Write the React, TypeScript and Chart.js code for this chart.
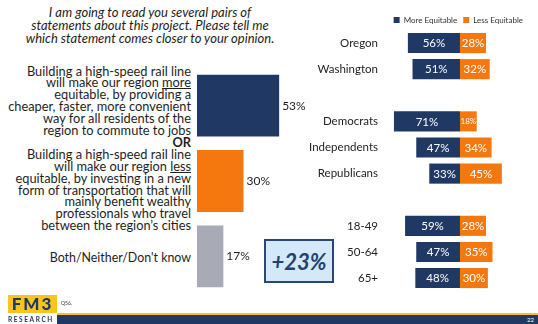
import React, { useEffect, useRef } from "react";
import { Chart, registerables } from "chart.js";

Chart.register(...registerables);

const NAVY = "#1f3864";
const ORANGE = "#f5780f";
const GREY = "#a8aab6";
const TEXT = "#1e1e1e";
const FONT = "Lato, 'Open Sans', sans-serif";

// ---- data ----
const overallCategories = ["More equitable", "Less equitable", "Both/Neither/Don't know"];
const overallValues = [53, 30, 17];
const overallColors = [NAVY, ORANGE, GREY];

const groupCategories = ["Oregon", "Washington", "", "Democrats", "Independents", "Republicans", "", "18-49", "50-64", "65+"];
const moreEquitable = [56, 51, null, 71, 47, 33, null, 59, 47, 48];
const lessEquitable = [28, 32, null, 18, 34, 45, null, 28, 35, 30];
const seriesNames = ["More Equitable", "Less Equitable"];

const titleLines = [
  "I am going to read you several pairs of",
  "statements about this project. Please tell me",
  "which statement comes closer to your opinion.",
];
const moreStatement = [
  "Building a high-speed rail line",
  "will make our region |more|",
  "equitable, by providing a",
  "cheaper, faster, more convenient",
  "way for all residents of the",
  "region to commute to jobs",
];
const lessStatement = [
  "Building a high-speed rail line",
  "will make our region |less|",
  "equitable, by investing in a new",
  "form of transportation that will",
  "mainly benefit wealthy",
  "professionals who travel",
  "between the region\u2019s cities",
];
const neitherLabel = "Both/Neither/Don't know";
const marginLabel = "+23%";

function renderLine(line: string, i: number) {
  const parts = line.split("|");
  return (
    <div key={i} style={{ position: "relative" }}>
      {parts.map((p, j) =>
        j % 2 === 1 ? (
          <span key={j} style={{ textDecoration: "underline", textDecorationThickness: "1px", textUnderlineOffset: "1px" }}>{p}</span>
        ) : (
          <span key={j}>{p}</span>
        )
      )}
    </div>
  );
}

function OverallChart() {
  const ref = useRef<HTMLCanvasElement | null>(null);
  useEffect(() => {
    if (!ref.current) return;
    const valuePlugin = {
      id: "valueLabels",
      afterDatasetsDraw(chart: any) {
        const ctx = chart.ctx;
        const meta = chart.getDatasetMeta(0);
        ctx.save();
        ctx.font = `12px ${FONT}`;
        ctx.fillStyle = TEXT;
        ctx.textBaseline = "middle";
        ctx.textAlign = "left";
        meta.data.forEach((el: any, i: number) => {
          ctx.fillText(overallValues[i] + "%", el.x + 3, el.y);
        });
        ctx.restore();
      },
    };
    const chart = new Chart(ref.current, {
      type: "bar",
      data: {
        labels: overallCategories,
        datasets: [
          {
            data: overallValues,
            backgroundColor: overallColors,
            borderWidth: 0,
            categoryPercentage: 1,
            barPercentage: 0.82,
          },
        ],
      },
      options: {
        indexAxis: "y",
        animation: false,
        responsive: true,
        maintainAspectRatio: false,
        layout: { padding: { left: 197, right: 0, top: 0, bottom: 0 } },
        plugins: { legend: { display: false }, tooltip: { enabled: false } },
        scales: {
          x: { display: false, min: 0, max: 80 },
          y: { display: false },
        },
      },
      plugins: [valuePlugin],
    });
    return () => chart.destroy();
  }, []);
  return (
    <div style={{ position: "absolute", left: 0, top: 68, width: 321, height: 226 }}>
      <canvas ref={ref} />
    </div>
  );
}

function GroupChart() {
  const ref = useRef<HTMLCanvasElement | null>(null);
  useEffect(() => {
    if (!ref.current) return;
    const innerPlugin = {
      id: "innerLabels",
      beforeLayout(chart: any) {
        const lg = chart.legend;
        if (lg && !lg.__trimmed) {
          const orig = lg.fit.bind(lg);
          lg.fit = function () {
            orig();
            this.height = Math.max(0, this.height - 4);
          };
          lg.__trimmed = true;
        }
      },
      afterDatasetsDraw(chart: any) {
        const ctx = chart.ctx;
        ctx.save();
        ctx.fillStyle = "#ffffff";
        ctx.textBaseline = "middle";
        ctx.textAlign = "center";
        const sources = [moreEquitable, lessEquitable];
        chart.data.datasets.forEach((_: any, di: number) => {
          const meta = chart.getDatasetMeta(di);
          meta.data.forEach((el: any, i: number) => {
            const v = sources[di][i];
            if (v === null || v === undefined) return;
            const w = Math.abs(el.x - el.base);
            ctx.font = w < 22 ? `8px ${FONT}` : `11.5px ${FONT}`;
            ctx.fillText(v + "%", (el.x + el.base) / 2, el.y + 0.5);
          });
        });
        ctx.restore();
      },
    };
    const chart = new Chart(ref.current, {
      type: "bar",
      data: {
        labels: groupCategories,
        datasets: [
          {
            label: seriesNames[0],
            data: moreEquitable.map((v) => (v === null ? null : -v)),
            backgroundColor: NAVY,
            borderWidth: 0,
            categoryPercentage: 1,
            barPercentage: 0.77,
          },
          {
            label: seriesNames[1],
            data: lessEquitable,
            backgroundColor: ORANGE,
            borderWidth: 0,
            categoryPercentage: 1,
            barPercentage: 0.77,
          },
        ],
      },
      options: {
        indexAxis: "y",
        animation: false,
        responsive: true,
        maintainAspectRatio: false,
        layout: { padding: { left: 0, right: 9, top: 10, bottom: 0 } },
        plugins: {
          tooltip: { enabled: false },
          legend: {
            position: "top",
            align: "end",
            labels: {
              boxWidth: 6,
              boxHeight: 6,
              padding: 6,
              color: "#333",
              font: { family: FONT, size: 8 },
            },
          },
        },
        scales: {
          x: { display: false, stacked: true, min: -80.6, max: 74.2 },
          y: {
            stacked: true,
            grid: { display: false, drawTicks: false },
            border: { display: false },
            ticks: {
              padding: 7,
              color: TEXT,
              font: { family: FONT, size: 11.5 },
            },
            afterFit(scale: any) {
              scale.width = 85;
            },
          },
        },
      },
      plugins: [innerPlugin],
    });
    return () => chart.destroy();
  }, []);
  return (
    <div style={{ position: "absolute", left: 300, top: 0, width: 238, height: 305 }}>
      <canvas ref={ref} />
    </div>
  );
}

export default function App() {
  return (
    <div style={{ position: "absolute", left: 0, top: 0, width: 538, height: 324, background: "#fff", overflow: "hidden", fontFamily: FONT, color: TEXT }}>
      <div style={{ position: "absolute", left: 0, top: 5.5, width: 300, textAlign: "center", fontStyle: "italic", fontSize: 13, lineHeight: "13px" }}>
        {titleLines.map((l, i) => (
          <div key={i}>{l}</div>
        ))}
      </div>
      <div style={{ position: "absolute", left: -60, top: 65.5, width: 251, textAlign: "right", whiteSpace: "nowrap", fontSize: 12.8, lineHeight: "11.9px" }}>
        {moreStatement.map(renderLine)}
        <div style={{ fontWeight: 700 }}>OR</div>
        {lessStatement.map(renderLine)}
      </div>
      <div style={{ position: "absolute", left: 0, top: 250, width: 191, textAlign: "right", whiteSpace: "nowrap", fontSize: 12.4, lineHeight: "15px" }}>
        {neitherLabel}
      </div>
      <OverallChart />
      <GroupChart />
      <div style={{ position: "absolute", left: 264, top: 239, width: 66, height: 40, border: "2px solid #2a4874", background: "#d3e8f8", display: "flex", alignItems: "center", justifyContent: "center", color: "#24406c", fontWeight: 700, fontStyle: "italic", fontSize: 22 }}>
        {marginLabel}
      </div>
      <div style={{ position: "absolute", left: 8, top: 295, width: 49, height: 18, background: "#f7c51c", color: NAVY, fontWeight: 900, fontSize: 17, lineHeight: "18px", letterSpacing: "2px", textAlign: "center" }}>FM3</div>
      <div style={{ position: "absolute", left: 8, top: 315, width: 50, fontSize: 6.5, fontWeight: 700, color: NAVY, letterSpacing: "1.6px", lineHeight: "9px" }}>RESEARCH</div>
      <div style={{ position: "absolute", left: 61, top: 300, fontSize: 5, color: "#333" }}>Q56.</div>
      <div style={{ position: "absolute", left: 57, top: 313, width: 481, height: 2, background: "#f2c230" }} />
      <div style={{ position: "absolute", left: 57, top: 315, width: 481, height: 9, background: NAVY }} />
      <div style={{ position: "absolute", left: 527, top: 315, fontSize: 6, color: "#fff", lineHeight: "9px" }}>22</div>
    </div>
  );
}
